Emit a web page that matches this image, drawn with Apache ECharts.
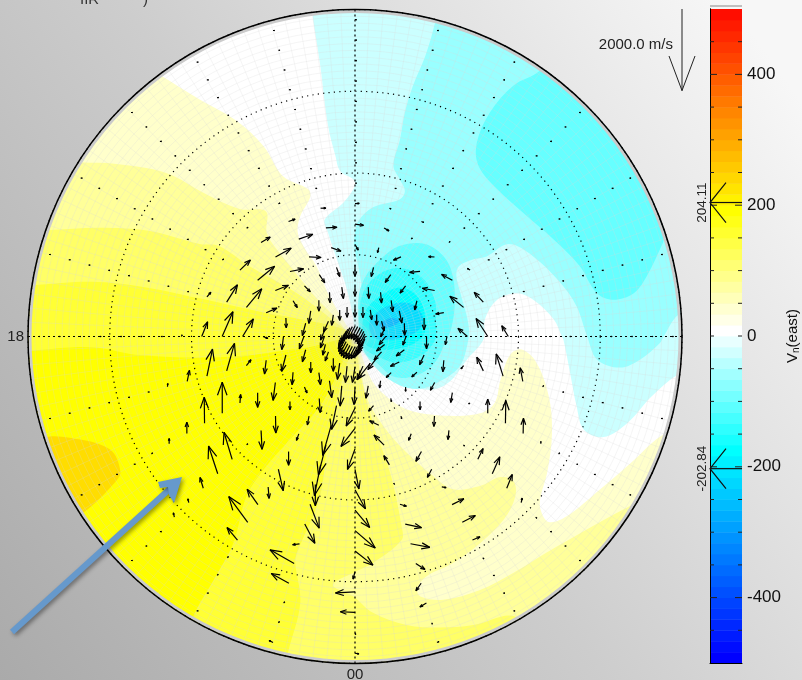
<!DOCTYPE html>
<html>
<head>
<meta charset="utf-8">
<title>Vn(east)</title>
<style>html,body{margin:0;padding:0;background:#ccc;overflow:hidden}#main{width:802px;height:680px}</style>
<script src="https://cdn.jsdelivr.net/npm/echarts@6/dist/echarts.min.js"></script>
</head>
<body>
<div id="main"></div>
<script>
// arrows sit on a fixed grid: one list per MLT hour, one entry per colatitude, [east, north] in m/s
var arrowColats = [1.25,3.75,6.25,8.75,11.25,13.75,16.25,18.75,21.25,23.75,26.25,28.75,31.25,33.75,36.25,38.75];
var h00 = [[-160,-304],[-64,-376],[-24,-416],[-216,-440],[-344,-440],[-184,-504],[96,-480],[256,-464],[360,-424],[496,-424],[440,-344],[-48,-184],[-480,-24],[-360,16],[16,-40],[96,-16]];
var h01 = [[-160,-304],[-144,-336],[-56,-304],[-120,-136],[-224,112],[-248,248],[-136,224],[-16,24],[160,-48],[400,-88],[472,-88],[224,-144],[-128,-184],[-160,-96],[8,-16],[48,24]];
var h02 = [[-160,-304],[-320,-400],[-24,-176],[16,-80],[16,-64],[-64,-160],[-136,-240],[-104,-200],[104,-16],[288,144],[320,168],[184,80],[8,-8],[8,0],[8,0],[8,0]];
var h03 = [[-160,-304],[-216,-280],[-120,-120],[0,-104],[0,-200],[-16,-256],[-24,-224],[8,-8],[128,264],[184,416],[136,336],[24,112],[8,-8],[8,0],[8,0],[8,0]];
var h04 = [[-160,-304],[-184,-200],[-216,-104],[-128,-112],[-104,-192],[-40,-240],[-24,-16],[0,344],[8,560],[8,376],[0,56],[8,8],[8,0],[8,0],[8,0],[8,0]];
var h05 = [[-160,-304],[-200,-160],[-200,-152],[-112,-240],[-24,-280],[-64,-80],[-160,336],[-168,544],[-64,336],[8,8],[8,0],[8,0],[8,0],[8,0],[8,0],[8,0]];
var h06 = [[-160,-304],[-160,-200],[-80,-208],[0,-304],[-40,-200],[-232,200],[-288,440],[-160,264],[8,0],[8,0],[8,0],[8,0],[8,0],[8,0],[8,0],[8,0]];
var h07 = [[-160,-304],[-96,-200],[8,-296],[0,-288],[-200,-32],[-336,272],[-224,240],[8,8],[8,0],[8,0],[8,0],[8,0],[8,0],[8,0],[8,0],[8,0]];
var h08 = [[-160,-304],[64,-240],[64,-296],[-56,-224],[-304,56],[-264,144],[-64,40],[8,0],[8,0],[8,0],[8,0],[8,0],[8,0],[8,0],[8,0],[8,0]];
var h09 = [[-160,-304],[0,-256],[40,-280],[-136,-176],[-256,-24],[-144,8],[8,8],[8,0],[8,0],[8,0],[8,0],[8,0],[8,0],[8,0],[8,0],[8,0]];
var h10 = [[-160,-304],[32,-240],[24,-264],[-136,-192],[-184,-80],[8,8],[56,-24],[8,0],[8,0],[8,0],[8,0],[8,0],[8,0],[8,0],[8,0],[8,0]];
var h11 = [[-160,-304],[0,-264],[16,-280],[-56,-224],[-32,-120],[120,-72],[40,-16],[8,0],[8,0],[8,0],[8,0],[8,0],[8,0],[8,0],[8,0],[8,0]];
var h12 = [[-160,-304],[0,-280],[0,-264],[0,-280],[80,-136],[208,-32],[104,8],[8,0],[8,0],[8,0],[8,0],[8,0],[8,0],[8,0],[8,0],[8,0]];
var h13 = [[-160,-304],[0,-256],[40,-280],[80,-224],[240,-88],[272,16],[128,0],[40,0],[8,0],[8,0],[8,0],[8,0],[8,0],[8,0],[8,0],[8,0]];
var h14 = [[-160,-304],[0,-256],[16,-256],[136,-200],[296,-16],[344,120],[160,56],[40,16],[8,0],[8,0],[8,0],[8,0],[8,0],[8,0],[8,0],[8,0]];
var h15 = [[-160,-304],[-40,-256],[0,-264],[144,-144],[336,64],[384,216],[224,136],[16,8],[8,0],[8,0],[8,0],[8,0],[8,0],[8,0],[8,0],[8,0]];
var h16 = [[-160,-304],[-120,-264],[-48,-304],[104,-168],[320,128],[416,344],[256,248],[16,8],[8,0],[8,0],[8,0],[8,0],[8,0],[8,0],[8,0],[8,0]];
var h17 = [[-160,-304],[-120,-280],[-80,-304],[8,-240],[264,112],[376,456],[264,424],[96,112],[8,0],[8,0],[8,0],[8,0],[8,0],[8,0],[8,0],[8,0]];
var h18 = [[-160,-304],[-96,-280],[-112,-304],[-40,-320],[120,-48],[264,432],[264,608],[144,360],[24,40],[8,0],[8,0],[8,0],[8,0],[8,0],[8,0],[8,0]];
var h19 = [[-160,-304],[-64,-264],[-80,-296],[-104,-400],[-40,-336],[112,144],[192,672],[136,664],[56,272],[8,80],[8,0],[8,0],[8,0],[8,0],[8,0],[8,0]];
var h20 = [[-160,-304],[-80,-224],[0,-264],[-24,-304],[-56,-440],[0,-360],[16,208],[0,760],[-8,640],[0,280],[0,128],[8,8],[8,0],[8,0],[8,0],[8,0]];
var h21 = [[-160,-304],[0,-320],[40,-296],[64,-144],[0,-200],[8,-416],[24,-464],[8,8],[-200,664],[-224,680],[-80,264],[-24,96],[-24,104],[8,0],[8,0],[8,0]];
var h22 = [[-160,-304],[-56,-400],[56,-416],[24,-344],[-40,-216],[-56,-160],[0,-336],[120,-528],[24,-280],[-264,376],[-464,632],[-256,304],[8,8],[16,16],[8,0],[8,0]];
var h23 = [[-160,-304],[-40,-400],[-40,-496],[-120,-584],[-208,-736],[-184,-728],[-152,-752],[0,-520],[224,-584],[248,-472],[-168,-24],[-592,336],[-432,240],[8,8],[16,16],[-96,48]];
var hours = [h00,h01,h02,h03,h04,h05,h06,h07,h08,h09,h10,h11,h12,h13,h14,h15,h16,h17,h18,h19,h20,h21,h22,h23];

// contour bands of Vn(east): outlines as [east, north] degrees from the pole
var base0 = [[-44,-44],[44,-44],[44,44],[-44,44]];
var pos37 = [[-25.5,33],[-23.7,31.9],[-19,29],[-14.5,26.4],[-11.2,23.3],[-8.8,19.6],[-5.7,18],[-5.5,17],[-6.7,14.7],[-7,12.7],[-6.1,10.7],[-4.7,8.6],[-3.3,5.3],[-1,1.3],[0,0],[2,-5.3],[4.3,-7.7],[6.9,-9.1],[11.6,-9.7],[15.3,-9.4],[17.1,-8.1],[17.8,-5.3],[19,-2.2],[20.4,-1.6],[22.2,-3.2],[23.7,-7.3],[24.1,-11.8],[23.5,-16.7],[22.7,-19.6],[22.7,-21.2],[23.7,-22.7],[25.9,-22],[30,-18.7],[33.7,-15.5],[38,-11.8],[43,-10.2],[44,-30],[30,-44],[0,-44],[-30,-44],[-44,-30],[-44,0],[-44,30]];
var pos73 = [[-34.3,21.5],[-33.6,21.3],[-29.2,21.1],[-23.1,20],[-18.2,17.4],[-14.1,15.6],[-10.9,15.3],[-10.8,12.7],[-9.6,10.7],[-7.6,8.2],[-4.9,4.9],[-2.2,2.1],[-.6,.2],[0,0],[.4,-1.6],[1.4,-7.3],[3.5,-11],[6.3,-14.2],[9.6,-17.1],[12,-18.7],[15.3,-18.3],[17.8,-17.2],[19.4,-17.7],[19.6,-19.6],[18.2,-22.4],[15.3,-25.3],[12,-27.7],[8.8,-29.3],[7.6,-30.8],[8,-31.8],[10.8,-32.2],[15.3,-31],[19.4,-28.9],[24.7,-25.7],[33.7,-20.7],[38,-19],[30,-44],[-30,-44],[-44,-20],[-44,22]];
var pos110 = [[-42,13],[-37.6,13],[-31.2,13.3],[-25.1,12.9],[-19,11.3],[-16.7,11.1],[-12.9,8.6],[-7.1,5.3],[-1,.7],[0,0],[.6,-4.4],[2.2,-10.6],[4.3,-16.7],[5.7,-23.2],[5.7,-24.9],[2.2,-27.7],[-.2,-28.9],[-2.7,-30.4],[-.2,-31.8],[2.2,-33.8],[6.3,-35.3],[10.4,-35.6],[14.5,-35.3],[19.4,-34.2],[21,-37],[0,-44],[-30,-44],[-44,-20]];
var pos146 = [[-44,6],[-39.1,6.3],[-32.2,6.7],[-26.1,6.1],[-19.2,4.7],[-11,2.9],[-4.5,1.7],[-1.2,.8],[0,0],[-.8,-2.8],[-1.8,-6.1],[-3.3,-12.6],[-4.3,-19.6],[-7.1,-26.5],[-7.3,-27.7],[-6.7,-32.6],[-8.2,-38.7],[-9,-43],[-30,-44],[-44,-20]];
var pos183 = [[-44,-2],[-39.5,-1.7],[-32.2,-1.3],[-26.1,-2.3],[-15.9,-2.5],[-5.7,-1.3],[-.5,-.3],[-1.4,-2.8],[-3.1,-6.5],[-4.9,-9.3],[-7.6,-12.2],[-11.2,-16.3],[-13.3,-19.6],[-14.9,-25.3],[-17.3,-29.8],[-19.4,-33.4],[-21,-37],[-44,-30]];
var pos225 = [[-38.2,-12.4],[-34.9,-12.4],[-30,-13.8],[-28.7,-16.5],[-29.4,-17.9],[-33.3,-21.6],[-38,-24],[-43,-15]];
var neg37 = [[-5.5,43],[-5.2,39.4],[-4.3,33.5],[-3.3,25.8],[-2.4,22.1],[-1.8,20.2],[-.2,19.2],[0,18.4],[-1.4,16.4],[-3.7,14.3],[-3.3,12.7],[-2.2,9.4],[-1,5.8],[-.2,2.1],[0,0],[1,-2],[3.9,-4.4],[6.3,-5.9],[9.4,-6.5],[11.6,-5.5],[13.7,-2.8],[15.7,-.4],[15.9,2.1],[17.4,4.5],[19.8,5.3],[21.8,4.5],[24.3,2.1],[25.3,0],[25.5,-.4],[26.3,-4.4],[27.1,-8.5],[28,-11.4],[30.4,-12.3],[33.3,-10.6],[36.3,-7.3],[39.4,-4.7],[43,-3],[44,44]];
var neg73 = [[10.5,42],[9.8,38.4],[8.6,34.3],[7.1,30.7],[6.1,27.4],[5.5,24.1],[4.7,20.9],[5.5,19.2],[6.1,17.8],[5.5,16.8],[2.2,15.8],[.4,14.1],[0,12.7],[-.1,11.1],[.4,8.6],[1,5.3],[1.8,2.1],[1,-1.2],[2.7,-4],[5.5,-6],[8,-6.4],[10,-5.7],[12.7,-3.8],[13.7,-1.2],[13.9,1.3],[12.9,5.3],[12.4,7.4],[12.7,8.6],[14.3,9.4],[16.1,9.8],[18.8,11.3],[21.8,9.8],[25.1,6.6],[27.1,3.7],[28.4,0],[29.6,-2.8],[32.4,-3.8],[34.9,-2.8],[37.3,-.8],[37.8,.1],[39.6,2.7],[43,4],[44,44]];
var neg110a = [[24,35],[22.6,32.5],[19.4,30.7],[16.5,27.4],[14.9,23.7],[15.1,20.9],[17.4,18],[20.6,15.1],[24.7,11.5],[27.5,8.6],[29.6,5.3],[31.6,4.5],[34.1,5.3],[35.7,7.4],[37.6,11.3],[38.2,12.7],[42,15],[36,36]];
var neg110b = [[.4,4.3],[1.2,7.2],[3.3,9.6],[5.5,11.1],[8.6,11.3],[11,9.6],[12,7.2],[12.2,3.9],[11.8,1.1],[11.2,-.4],[9.6,-3.4],[7.1,-4.9],[4.7,-4.9],[3.1,-3.6],[1,-1.6]];
var neg146 = [[.6,3.7],[1.6,6.4],[4.1,8.2],[6.5,8.2],[8.6,6.8],[9.8,4.3],[9.9,1.9],[9.8,-.4],[8,-2.4],[5.1,-3.2],[2.7,-2.4],[1,-1.2]];
var neg183 = [[1.2,2.9],[3.3,5.1],[5.7,6],[7.8,4.7],[8.6,2.3],[8.4,.2],[6.5,-1.2],[3.3,-1.6],[1.2,-.8]];
var neg225 = [[1.8,1.8],[3.7,3.6],[6.5,4.1],[8.2,2.7],[8,1],[5.7,-.2],[2.4,-.2]];
var neg267 = [[2.9,1.4],[4.5,2.3],[5.4,1.8],[3.7,1]];
var contourLevels = [0,37,73,110,146,183,225,-37,-73,-110,-110,-146,-183,-225,-267];
var contourLines = [base0,pos37,pos73,pos110,pos146,pos183,pos225,neg37,neg73,neg110a,neg110b,neg146,neg183,neg225,neg267];

// colour bar
var barLevels = [-500,-483.3,-466.7,-450,-433.3,-416.7,-400,-383.3,-366.7,-350,-333.3,-316.7,-300,-283.3,-266.7,-250,-233.3,-216.7,-200,-183.3,-166.7,-150,-133.3,-116.7,-100,-83.3,-66.7,-50,-33.3,-16.7,0,16.7,33.3,50,66.7,83.3,100,116.7,133.3,150,166.7,183.3,200,216.7,233.3,250,266.7,283.3,300,316.7,333.3,350,366.7,383.3,400,416.7,433.3,450,466.7,483.3];
var barStep = 16.67;
var barTicks = [-450,-400,-350,-300,-250,-200,-150,-100,-50,0,50,100,150,200,250,300,350,400,450];
var barLabels = [-400,-200,0,200,400];
var markerValues = [204.11,-202.84];
var mltLabels = {0:'00',18:'18'};
var refSpeed = 2000;

var pxPerMs = 1/24.5;
var fontName = '"Liberation Sans", Arial, sans-serif';

function bandColor(v){
	var t = Math.abs(v);
	var a = Math.round(255*Math.max(0,1-t/183));
	var b = t>183 ? Math.round(255*Math.max(0,1-(t-183)/317)) : 255;
	return v>=0 ? 'rgb(255,'+b+','+a+')' : 'rgb('+a+','+b+',255)';
}
function toPolar(p){
	var mlt = Math.atan2(p[0],-p[1])*12/Math.PI;
	if(mlt<0){mlt += 24;}
	return [Math.sqrt(p[0]*p[0]+p[1]*p[1]),mlt];
}

var contourData = contourLevels.map(function(lv,i){return [0,0,lv,i];});
var arrowData = [];
hours.forEach(function(list,h){
	list.forEach(function(v,k){
		arrowData.push([arrowColats[k],h,v[0],v[1]]);
	});
});
var barData = barLevels.map(function(v){return [0,v];});

function renderContour(params,api){
	var idx = api.value(3);
	var pts = contourLines[idx].map(function(p){
		var c = toPolar(p);
		var xy = api.coord(c);
		return [xy[0],xy[1]];
	});
	return {
		type:'polygon',
		shape:{points:pts,smooth:idx==0?0:0.35},
		style:{fill:bandColor(api.value(2))},
		silent:true
	};
}
function renderArrow(params,api){
	var p = api.coord([api.value(0),api.value(1)]);
	var dx = api.value(2)*pxPerMs, dy = -api.value(3)*pxPerMs;
	var len = Math.sqrt(dx*dx+dy*dy);
	if(len<1.6){
		// what is left of a very slow wind is only a dot
		dx = dx/len*1.6; dy = dy/len*1.6; len = 1.6;
	}
	var tip = [p[0]+dx,p[1]+dy];
	var ang = Math.atan2(dy,dx), bl = len*0.45, spread = 20*Math.PI/180;
	var b1 = [tip[0]-bl*Math.cos(ang-spread),tip[1]-bl*Math.sin(ang-spread)];
	var b2 = [tip[0]-bl*Math.cos(ang+spread),tip[1]-bl*Math.sin(ang+spread)];
	var st = {stroke:'#000',lineWidth:1.2,fill:null,lineJoin:'bevel'};
	return {
		type:'group',
		silent:true,
		children:[
			{type:'line',shape:{x1:p[0],y1:p[1],x2:tip[0],y2:tip[1]},style:st},
			{type:'polyline',shape:{points:[b1,tip,b2]},style:st}
		]
	};
}
function renderBar(params,api){
	var a = api.coord([0,api.value(1)]);
	var b = api.coord([1,api.value(1)+barStep]);
	return {
		type:'rect',
		shape:{x:a[0],y:b[1],width:b[0]-a[0],height:a[1]-b[1]+0.4},
		style:{fill:bandColor(api.value(1))},
		silent:true
	};
}
function renderBarTick(params,api){
	var v = api.value(1);
	var a = api.coord([0,v]);
	var b = api.coord([1,v]);
	var len = (v==400||v==-400||v==200||v==-200)?7:4;
	var st = {stroke:'#222',lineWidth:1};
	return {
		type:'group',
		silent:true,
		children:[
			{type:'line',shape:{x1:a[0],y1:a[1],x2:a[0]+len,y2:a[1]},style:st},
			{type:'line',shape:{x1:b[0],y1:b[1],x2:b[0]-len,y2:b[1]},style:st}
		]
	};
}
function renderMarker(params,api){
	var v = api.value(1);
	var a = api.coord([0,v]);
	var b = api.coord([1,v]);
	var st = {stroke:'#111',lineWidth:1.2,fill:null};
	return {
		type:'group',
		silent:true,
		children:[
			{type:'line',shape:{x1:a[0],y1:a[1],x2:b[0],y2:b[1]},style:st},
			{type:'polyline',shape:{points:[[a[0]+16,a[1]-20],[a[0],a[1]],[a[0]+16,a[1]+20]]},style:st},
			{type:'text',x:a[0]-8,y:a[1],rotation:Math.PI/2,style:{text:String(v),font:'13.5px '+fontName,fill:'#222',textAlign:'center',textVerticalAlign:'middle'}}
		]
	};
}

var myChart = echarts.init(document.getElementById('main'));
var option = {
	animation:false,
	backgroundColor:new echarts.graphic.LinearGradient(0,1,1,0.15,[
		{offset:0,color:'#aaaaaa'},
		{offset:0.5,color:'#cdcdcd'},
		{offset:1,color:'#f7f7f7'}
	]),
	polar:{center:[355,336.5],radius:[0,327]},
	radiusAxis:{
		type:'value',min:0,max:40,interval:10,z:5,
		axisLine:{show:false},axisTick:{show:false},axisLabel:{show:false},
		splitLine:{show:true,lineStyle:{color:'#000',type:[1.2,4.2],width:1.2}},
		minorTick:{show:false,splitNumber:12},
		minorSplitLine:{show:true,lineStyle:{color:'rgba(215,215,215,0.25)',width:1}}
	},
	angleAxis:{
		type:'value',min:0,max:24,interval:6,startAngle:270,clockwise:false,z:5,
		axisLine:{show:true,lineStyle:{color:'#000',width:1.5}},
		axisTick:{show:false},
		axisLabel:{
			show:true,margin:4,color:'#222',fontSize:15,fontFamily:fontName,
			formatter:function(v){return mltLabels[v]||'';}
		},
		splitLine:{show:true,lineStyle:{color:'#000',type:[2,3],width:1.2}},
		minorTick:{show:false,splitNumber:36},
		minorSplitLine:{show:true,lineStyle:{color:'rgba(215,215,215,0.25)',width:1}}
	},
	grid:{left:710,top:9,width:32,height:654,containLabel:false,outerBoundsMode:'none'},
	xAxis:{
		type:'value',min:0,max:1,z:5,
		axisLine:{show:true,onZero:false,lineStyle:{color:'#000'}},
		axisTick:{show:false},axisLabel:{show:false},splitLine:{show:false}
	},
	yAxis:[{
		type:'value',min:-500,max:500,interval:50,position:'right',z:5,
		axisLine:{show:true,lineStyle:{color:'#000',width:1}},
		axisTick:{show:false},
		axisLabel:{
			show:true,margin:5,color:'#111',fontSize:17,fontFamily:fontName,
			formatter:function(v){return barLabels.indexOf(v)>=0?String(v):'';}
		},
		splitLine:{show:false},
		name:'V{s|n}(east)',nameLocation:'middle',nameRotate:90,nameGap:41,
		nameTextStyle:{color:'#111',fontSize:15,fontFamily:fontName,rich:{s:{fontSize:10,fontFamily:fontName,padding:[7,0,0,0]}}}
	},{
		type:'value',min:-500,max:500,interval:50,position:'left',z:5,
		axisLine:{show:true,lineStyle:{color:'#000',width:1}},
		axisTick:{show:false},
		axisLabel:{show:false},splitLine:{show:false}
	}],
	series:[
		{type:'custom',coordinateSystem:'polar',clip:true,z:1,renderItem:renderContour,data:contourData,encode:{radius:0,angle:1}},
		{type:'custom',coordinateSystem:'polar',z:10,renderItem:renderArrow,data:arrowData,encode:{radius:0,angle:1}},
		{type:'custom',coordinateSystem:'cartesian2d',z:1,renderItem:renderBar,data:barData,encode:{x:0,y:1}},
		{type:'custom',coordinateSystem:'cartesian2d',z:9,renderItem:renderBarTick,data:barTicks.map(function(v){return [0,v];}),encode:{x:0,y:1}},
		{type:'custom',coordinateSystem:'cartesian2d',z:10,clip:false,renderItem:renderMarker,data:markerValues.map(function(v){return [0,v];}),encode:{x:0,y:1}}
	],
	graphic:[
		// grey rim just inside the black circle
		{type:'ring',z:4,silent:true,shape:{cx:355,cy:336.5,r:326.5,r0:323.5},style:{fill:'#cbcbcb'}},
		{type:'line',z:4,silent:true,shape:{x1:710,y1:6,x2:742,y2:6},style:{stroke:'#888',lineWidth:1}},
		// speed key
		{type:'line',z:20,silent:true,shape:{x1:682,y1:9,x2:682,y2:9+refSpeed*pxPerMs},style:{stroke:'#222',lineWidth:1}},
		{type:'polyline',z:20,silent:true,shape:{points:[[669,56],[682,9+refSpeed*pxPerMs],[695,56]]},style:{stroke:'#222',lineWidth:1,fill:null}},
		{type:'text',z:20,silent:true,x:673,y:45,style:{text:refSpeed.toFixed(1)+' m/s',font:'15px '+fontName,fill:'#222',textAlign:'right',textVerticalAlign:'middle'}},
		// heading cut off by the top of the slide
		{type:'text',z:20,silent:true,x:80,y:-8,style:{text:'IIR',font:'15px '+fontName,fill:'#333',textAlign:'left',textVerticalAlign:'top'}},
		{type:'text',z:20,silent:true,x:143,y:-8,style:{text:')',font:'15px '+fontName,fill:'#333',textAlign:'left',textVerticalAlign:'top'}},
		// blue pointer drawn over the plot
		{type:'polyline',z:30,silent:true,shape:{points:[[12,632],[174,485]]},style:{stroke:'#6699cc',lineWidth:6,fill:null,shadowBlur:4,shadowOffsetX:2,shadowOffsetY:2,shadowColor:'rgba(0,0,0,0.4)'}},
		{type:'polygon',z:30,silent:true,shape:{points:[[182,477],[158,482],[160,488],[168,487],[169,495],[174,503]]},style:{fill:'#6699cc',shadowBlur:4,shadowOffsetX:2,shadowOffsetY:2,shadowColor:'rgba(0,0,0,0.4)'}}
	]
};
myChart.setOption(option);
</script>
</body>
</html>
